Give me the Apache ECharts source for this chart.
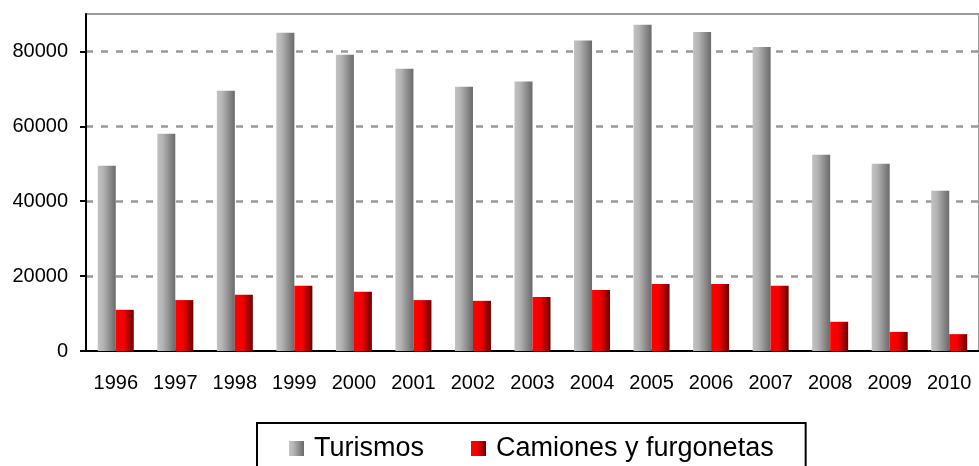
<!DOCTYPE html>
<html>
<head>
<meta charset="utf-8">
<script src="https://cdn.jsdelivr.net/npm/echarts@6/dist/echarts.min.js"></script>
<style>
  html, body { margin: 0; padding: 0; background: #fff; }
  #chart { width: 979px; height: 466px; }
</style>
</head>
<body>
<div id="chart"></div>
<script>
const years = ['1996', '1997', '1998', '1999', '2000', '2001', '2002', '2003', '2004', '2005', '2006', '2007', '2008', '2009', '2010']
const turismos = [49500, 58000, 69500, 85000, 79100, 75400, 70600, 72000, 82900, 87100, 85200, 81200, 52400, 50000, 42800]
const camiones = [11000, 13600, 15000, 17400, 15800, 13600, 13400, 14400, 16300, 17900, 17900, 17400, 7800, 5100, 4500]

function hGrad(stops) {
  return {
    type: 'linear', x: 0, y: 0, x2: 1, y2: 0,
    colorStops: stops.map(([offset, color]) => ({ offset, color }))
  }
}

const grayFill = hGrad([[0, '#c2c2c2'], [0.3, '#b4b4b4'], [1, '#6a6a6a']])
const redFill = hGrad([[0, '#ff0000'], [0.45, '#f20000'], [1, '#6a0000']])

const chart = echarts.init(document.getElementById('chart'))
chart.setOption({
  animation: false,
  backgroundColor: '#fff',
  textStyle: { fontFamily: 'Liberation Sans, Arial, sans-serif' },
  grid: {
    left: 86, top: 14, width: 900, height: 337,
    show: true, borderColor: '#9a9a9a', borderWidth: 2, backgroundColor: '#fff'
  },
  legend: {
    left: 257, top: 423,
    padding: [12, 32, 30, 32],
    borderColor: '#000', borderWidth: 2,
    icon: 'rect',
    itemWidth: 15, itemHeight: 15, itemGap: 47,
    textStyle: { color: '#000', fontSize: 27, padding: [0, 0, 0, 5] },
    data: ['Turismos', 'Camiones y furgonetas']
  },
  xAxis: {
    type: 'category',
    data: years,
    axisLine: { lineStyle: { color: '#000', width: 2 } },
    axisTick: { length: 6, lineStyle: { color: '#000', width: 2 } },
    axisLabel: { color: '#000', fontSize: 20, margin: 22 }
  },
  yAxis: {
    type: 'value',
    min: 0, max: 90000, interval: 20000,
    axisLine: { show: true, lineStyle: { color: '#000', width: 2 } },
    axisTick: { show: true, length: 6, lineStyle: { color: '#000', width: 2 } },
    axisLabel: { color: '#000', fontSize: 20, margin: 18, showMaxLabel: false, formatter: (v) => String(v) },
    splitLine: { showMinLine: false, showMaxLine: false, lineStyle: { color: '#999', width: 2.5, type: [7, 8] } }
  },
  series: [
    { name: 'Turismos', type: 'bar', barWidth: 18, barGap: '0%', itemStyle: { color: grayFill }, data: turismos },
    { name: 'Camiones y furgonetas', type: 'bar', barWidth: 18, barGap: '0%', itemStyle: { color: redFill }, data: camiones }
  ]
})
</script>
</body>
</html>
